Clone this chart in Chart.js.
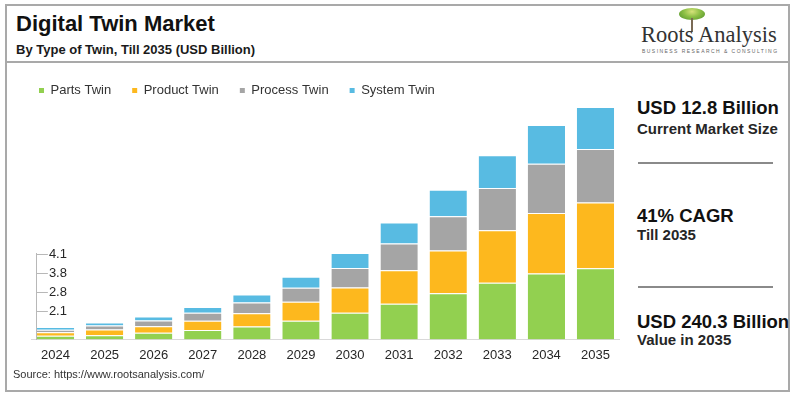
<!DOCTYPE html>
<html>
<head>
<meta charset="utf-8">
<script src="https://cdn.jsdelivr.net/npm/chart.js@4/dist/chart.umd.min.js"></script>
<style>
  body { margin: 0; width: 796px; height: 396px; background: #fff; position: relative; overflow: hidden;
         font-family: "Liberation Sans", Arial, sans-serif; color: #1a1a1a; }
  .abs { position: absolute; line-height: 1; white-space: nowrap; }
  #frame { position: absolute; left: 5px; top: 4px; width: 785px; height: 388px; box-sizing: border-box;
           border: 2px solid #a9a9a9; }
  #headline { position: absolute; left: 6px; top: 61px; width: 783px; height: 2px; background: #a9a9a9; }
  .big { font-size: 18.5px; font-weight: bold; color: #111; }
  .small { font-size: 15px; font-weight: bold; color: #262626; }
  .rule { position: absolute; left: 638px; width: 135px; height: 2px; background: #8a8a8a; }
  #chartBox { position: absolute; left: 18px; top: 63px; }
</style>
</head>
<body>
<div id="frame"></div>
<div id="headline"></div>

<div class="abs" style="left:16px; top:13.4px; font-size:22px; font-weight:bold; color:#111;">Digital Twin Market</div>
<div class="abs" style="left:16px; top:43.3px; font-size:13px; font-weight:bold; color:#1a1a1a;">By Type of Twin, Till 2035 (USD Billion)</div>

<!-- logo -->
<div style="position:absolute; left:679px; top:8px; width:26px; height:12px; border-radius:50%;
            background: radial-gradient(ellipse at 50% 30%, #d6e27a 0%, #8cbf45 45%, #4f8f2a 100%);"></div>
<div style="position:absolute; left:691px; top:18px; width:2px; height:14px; background:#7a6a55;"></div>
<div class="abs" style="left:641px; top:24.2px; font-family:'Liberation Serif','Times New Roman',serif; font-size:22.5px; color:#333;">Roots Analysis</div>
<div class="abs" style="left:642px; top:48.5px; font-size:5px; letter-spacing:1.45px; color:#666;">BUSINESS RESEARCH &amp; CONSULTING</div>

<div id="chartBox"><canvas id="marketChart" width="602" height="308"></canvas></div>

<div class="abs big" style="left:637px; top:99.3px;">USD 12.8 Billion</div>
<div class="abs small" style="left:637px; top:120.6px;">Current Market Size</div>
<div class="rule" style="top:162px;"></div>
<div class="abs big" style="left:637px; top:207px;">41% CAGR</div>
<div class="abs small" style="left:637px; top:226.6px;">Till 2035</div>
<div class="rule" style="top:286px;"></div>
<div class="abs big" style="left:637px; top:312.6px;">USD 240.3 Billion</div>
<div class="abs small" style="left:637px; top:332.3px;">Value in 2035</div>

<div class="abs" style="left:13px; top:369px; font-size:11px; color:#333;">Source: https://www.rootsanalysis.com/</div>

<script>
// chart data (USD Billion)
const years = ["2024", "2025", "2026", "2027", "2028", "2029", "2030", "2031", "2032", "2033", "2034", "2035"];
const partsTwin = [3.8, 4.4, 6.8, 9.6, 13.4, 19.4, 27.5, 36.8, 47.8, 58.5, 68.2, 73.7];
const productTwin = [3.6, 5.9, 6.9, 9.6, 13.7, 19.6, 26.2, 34.8, 44.1, 54.4, 62.6, 67.9];
const processTwin = [2.5, 4.1, 5.9, 8.3, 11.1, 14.5, 20.2, 27.6, 35.4, 43.7, 51.0, 55.4];
const systemTwin = [2.9, 3.1, 4.1, 5.9, 8.3, 11.2, 15.5, 21.7, 27.6, 33.8, 39.9, 43.4];
// the little axis on the left, bottom to top
const axisLabels = ["2.1", "2.8", "3.8", "4.1"];

const totals = years.map((_, i) => partsTwin[i] + productTwin[i] + processTwin[i] + systemTwin[i]);

const textColor = "#262626";
const font = { family: "'Liberation Sans', Arial, sans-serif", size: 13 };
const barPct = 0.76;

// move the small axis onto the left edge of the first bar
const pinAxis = {
  id: "pinAxis",
  afterLayout(chart) {
    const x = chart.scales.x;
    const ax = chart.scales.y2;
    const slot = x.width / years.length;
    const edge = x.getPixelForValue(0) - slot * barPct / 2;
    const dx = edge - ax.right;
    ax.left += dx;
    ax.right += dx;
  }
};

function segment(label, data, color) {
  return {
    label,
    data,
    backgroundColor: color,
    borderColor: "rgba(255,255,255,0.75)",
    borderWidth: { top: 1, left: 0, right: 0, bottom: 0 },
    borderSkipped: false,
    categoryPercentage: barPct,
    barPercentage: 1
  };
}

new Chart(document.getElementById("marketChart"), {
  type: "bar",
  data: {
    labels: years,
    datasets: [
      segment("Parts Twin", partsTwin, "#92d050"),
      segment("Product Twin", productTwin, "#fdb81e"),
      segment("Process Twin", processTwin, "#a5a5a5"),
      segment("System Twin", systemTwin, "#58bbe2")
    ]
  },
  options: {
    responsive: false,
    devicePixelRatio: 1,
    animation: false,
    layout: { padding: 0 },
    plugins: {
      legend: {
        position: "top",
        align: "start",
        labels: {
          boxWidth: 5,
          boxHeight: 5,
          padding: 21,
          color: "#333",
          font,
          generateLabels: chart =>
            Chart.defaults.plugins.legend.labels.generateLabels(chart).map(l => ({ ...l, lineWidth: 0 }))
        }
      },
      tooltip: { enabled: false }
    },
    scales: {
      x: {
        stacked: true,
        offset: true,
        grid: { display: false, drawTicks: false },
        border: { color: "#d9d9d9" },
        ticks: { color: textColor, font, padding: 8, maxRotation: 0, autoSkip: false }
      },
      y: {
        stacked: true,
        display: false,
        min: 0,
        max: Math.max(...totals)
      },
      y2: {
        type: "linear",
        position: "left",
        stack: "axis",
        stackWeight: 1,
        weight: 1,
        min: 0,
        max: 4.6,
        afterBuildTicks: s => { s.ticks = axisLabels.map((_, i) => ({ value: i + 1.5 })); },
        ticks: {
          mirror: true,
          padding: 12,
          autoSkip: false,
          color: textColor,
          font,
          callback: (v, i) => axisLabels[i]
        },
        grid: { drawOnChartArea: false, tickLength: -11, color: "#b8b8b8" },
        border: { color: "#b8b8b8" }
      },
      y3: {
        type: "linear",
        position: "left",
        stack: "axis",
        stackWeight: 1.69,
        weight: 2,
        display: false
      }
    }
  },
  plugins: [pinAxis]
});
</script>
</body>
</html>
